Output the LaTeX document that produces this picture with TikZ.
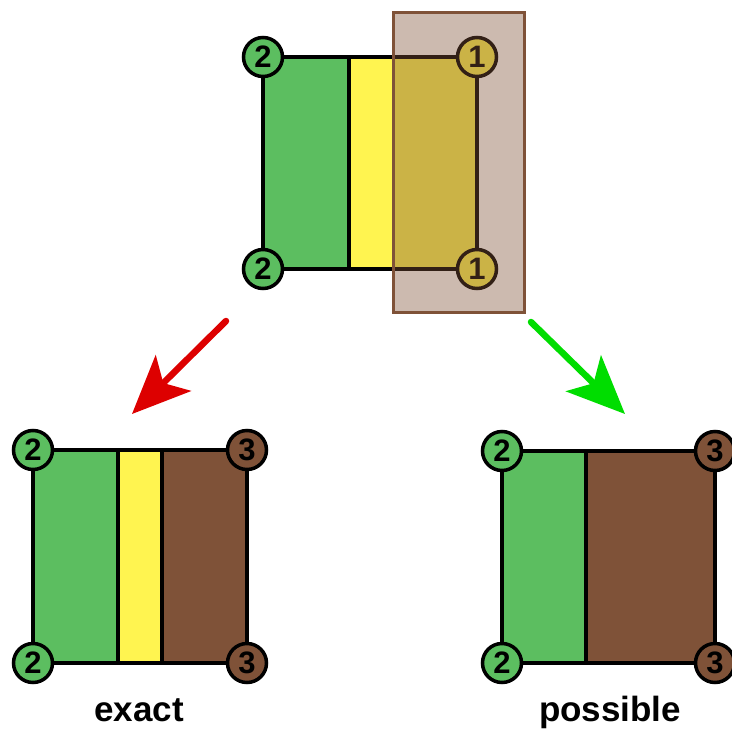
\documentclass[tikz,border=0pt]{standalone}
\usepackage{fontspec}
\setmainfont{Liberation Sans}
\usetikzlibrary{arrows.meta}
\definecolor{cgreen}{RGB}{92,190,96}
\definecolor{cyellow}{RGB}{255,244,80}
\definecolor{cbrown}{RGB}{127,82,56}
\definecolor{cred}{RGB}{221,0,0}
\definecolor{cgarrow}{RGB}{0,221,0}
\tikzset{
  edge/.style={draw=black, line width=3.5pt},
  corner/.style={circle, draw=black, line width=3.5pt, minimum size=39pt, inner sep=0pt,
    font=\fontsize{31}{31}\selectfont\bfseries},
  gcorner/.style={corner, fill=cgreen},
  ycorner/.style={corner, fill=cyellow},
  bcorner/.style={corner, fill=cbrown},
  caption/.style={anchor=base, font=\fontsize{35}{35}\selectfont\bfseries},
  bigarrow/.style={line width=6.5pt, line cap=round,
    -{Stealth[length=58pt, width=50pt, inset=14pt]}}
}
\begin{document}
\begin{tikzpicture}[x=1pt,y=-1pt]
\useasboundingbox (0,0) rectangle (732,729);
% ---- top figure ----
\fill[cgreen] (263,57) rectangle (349,269);
\fill[cyellow] (349,57) rectangle (477,269);
\draw[edge] (349,57) -- (349,269);
\draw[edge] (263,57) rectangle (477,269);
\node[gcorner] (t2a) at (263,57) {2};
\node[gcorner] (t2b) at (263,269) {2};
\node[ycorner] (t1a) at (477,57) {1};
\node[ycorner] (t1b) at (477,269) {1};
\fill[cbrown, opacity=0.4] (393,12) rectangle (524,312);
\draw[cbrown, line width=3pt] (393,12) rectangle (524,312);
% ---- arrows ----
\coordinate (ra) at (226,321);
\coordinate (rb) at (132,414);
\coordinate (ga) at (531,322);
\coordinate (gb) at (625,414);
\draw[bigarrow, cred] (ra) -- (rb);
\draw[bigarrow, cgarrow] (ga) -- (gb);
% ---- bottom left ----
\fill[cgreen] (33,450) rectangle (118,663);
\fill[cyellow] (118,450) rectangle (162,663);
\fill[cbrown] (162,450) rectangle (247,663);
\draw[edge] (118,450) -- (118,663);
\draw[edge] (162,450) -- (162,663);
\draw[edge] (33,450) rectangle (247,663);
\node[gcorner] (l2a) at (33,450) {2};
\node[gcorner] (l2b) at (33,663) {2};
\node[bcorner] (l3a) at (247,450) {3};
\node[bcorner] (l3b) at (247,663) {3};
\node[caption] (exact) at (139,721) {exact};
% ---- bottom right ----
\fill[cgreen] (502,451) rectangle (586,663);
\fill[cbrown] (586,451) rectangle (715,663);
\draw[edge] (586,451) -- (586,663);
\draw[edge] (502,451) rectangle (715,663);
\node[gcorner] (r2a) at (502,451) {2};
\node[gcorner] (r2b) at (502,663) {2};
\node[bcorner] (r3a) at (715,451) {3};
\node[bcorner] (r3b) at (715,663) {3};
\node[caption] (possible) at (610,721) {possible};
\end{tikzpicture}
\end{document}
